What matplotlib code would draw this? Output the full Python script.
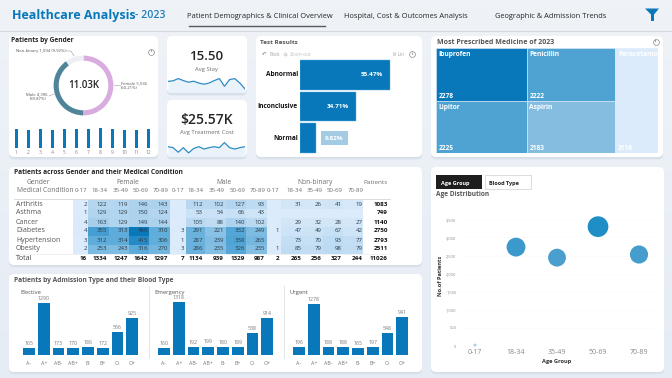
import matplotlib
matplotlib.use("Agg")
import matplotlib.pyplot as plt
import numpy as np
from matplotlib.colors import LinearSegmentedColormap
from matplotlib.patches import FancyBboxPatch, Polygon, Rectangle

plt.rcParams['font.family'] = ['Open Sans', 'DejaVu Sans']

W, H = 672, 378
BLUE = '#0878BA'
DARK = '#252525'
GREY = '#6E6E6E'

gender_names = ['Female', 'Male', 'Non-binary']
gender_counts = [5536, 4396, 1094]
gender_colors = ['#D8ACDF', '#4F8499', '#EDEFF3']
month_labels = [str(m) for m in range(1, 13)]
month_counts = [935, 895, 935, 905, 940, 975, 935, 985, 945, 905, 895, 935]

avg_stay = [15.42, 15.45, 15.56, 15.46, 15.38, 15.43, 15.34, 15.28, 15.34, 15.46, 15.56, 15.18, 15.51, 15.56, 15.34, 15.05]
avg_cost = [25.75, 25.68, 25.35, 25.68, 25.30, 25.62, 25.75, 25.58, 25.68, 25.75, 25.68, 26.05, 25.68, 25.58, 25.68, 25.75]

test_names = ['Abnormal', 'Inconclusive', 'Normal']
test_shares = [55.47, 34.71, 9.82]

medicine_names = ['Ibuprofen', 'Lipitor', 'Penicillin', 'Aspirin', 'Paracetamol']
medicine_counts = [2278, 2225, 2222, 2183, 2118]
medicine_colors = ['#0878BA', '#4FA3D3', '#4FA3D3', '#85BDE1', '#DCEBFB']

conditions = ['Arthritis', 'Asthma', 'Cancer', 'Diabetes', 'Hypertension', 'Obesity']
age_groups = ['0-17', '18-34', '35-49', '50-69', '70-89']
n = np.nan
female = [[2, 122, 119, 146, 143], [1, 129, 129, 150, 124], [4, 163, 129, 149, 144],
          [4, 355, 313, 466, 310], [3, 312, 314, 415, 306], [2, 253, 243, 316, 270]]
male = [[n, 112, 102, 127, 93], [n, 53, 54, 66, 43], [n, 105, 88, 140, 102],
        [3, 291, 221, 332, 249], [1, 287, 239, 338, 265], [3, 286, 235, 326, 235]]
nonbinary = [[n, 31, 26, 41, 19], [n, n, n, n, n], [n, 29, 32, 28, 27],
             [1, 47, 49, 67, 42], [n, 73, 70, 93, 77], [1, 85, 79, 98, 79]]
female_total = [16, 1334, 1247, 1642, 1297]
male_total = [7, 1134, 939, 1329, 987]
nonbinary_total = [2, 265, 256, 327, 244]
patients_total = [1083, 749, 1140, 2750, 2793, 2511, 11026]

blood_types = ['A-', 'A+', 'AB-', 'AB+', 'B-', 'B+', 'O-', 'O+']
elective = [165, 1290, 173, 170, 186, 172, 556, 925]
emergency = [160, 1318, 192, 199, 180, 189, 538, 914]
urgent = [196, 1278, 188, 188, 165, 197, 548, 941]

age_patients = [25, 2733, 2442, 3298, 2528]
y_ticks = [0, 500, 1000, 1500, 2000, 2500, 3000, 3500]

fig = plt.figure(figsize=(W / 100, H / 100), dpi=100)
bg = fig.add_axes([0, 0, 1, 1])
bg.set_xlim(0, W)
bg.set_ylim(H, 0)
bg.axis('off')


def ax_px(x0, y0, x1, y1):
    ax = fig.add_axes([x0 / W, 1 - y1 / H, (x1 - x0) / W, (y1 - y0) / H])
    ax.patch.set_alpha(0)
    return ax


def card(x0, y0, x1, y1):
    for off, col in ((2.5, '#DDE4EC'), (1.2, '#D5DDE6')):
        bg.add_patch(FancyBboxPatch((x0, y0 + off), x1 - x0, y1 - y0, boxstyle='round,pad=0,rounding_size=5',
                                    fc=col, ec='none', zorder=1))
    bg.add_patch(FancyBboxPatch((x0, y0), x1 - x0, y1 - y0, boxstyle='round,pad=0,rounding_size=5',
                                fc='white', ec='none', zorder=2))


def label(x, y, s, size=4.5, color=GREY, ha='left', weight='normal', **kw):
    bg.text(x, y, s, fontsize=size, color=color, ha=ha, va='center', fontweight=weight, zorder=6, **kw)


def info(x, y):
    bg.plot([x], [y], 'o', ms=4.2, mfc='white', mec='#8A8A8A', mew=0.5, zorder=6)
    label(x, y, 'i', size=3.2, color='#777777', ha='center', weight='bold')


# page background + header
bg.imshow(np.linspace(0, 1, 64).reshape(-1, 1), extent=(0, W, H, 0), aspect='auto', zorder=0,
          cmap=LinearSegmentedColormap.from_list('page', ['#EFF3F8', '#E6ECF5']))
bg.set_xlim(0, W)
bg.set_ylim(H, 0)
bg.plot([0, W], [30.5, 30.5], color='#D3D9E1', lw=0.8, zorder=1)
label(12, 15, 'Healthcare Analysis', size=9, color=BLUE, weight='bold')
label(135, 16, '- 2023', size=7.6, color='#1F7DB8', weight='semibold')
label(260, 16, 'Patient Demographics & Clinical Overview', size=5.4, color=DARK, ha='center')
bg.plot([189, 325], [26, 26], color='#555B60', lw=1, zorder=3)
label(405.5, 16, 'Hospital, Cost & Outcomes Analysis', size=5.4, color=DARK, ha='center')
label(551, 16, 'Geographic & Admission Trends', size=5.4, color=DARK, ha='center')
bg.add_patch(Polygon([(645, 8.5), (659, 8.5), (654, 14.5), (654, 21), (651, 21), (651, 14.5)], fc=BLUE, ec='none', zorder=3))

card(9, 36, 158, 157)
card(167, 36, 247, 93)
card(167, 100, 247, 157)
card(256, 36, 422, 157)
card(431, 36, 663, 157)
card(9, 167, 422, 265)
card(9, 274, 422, 372)
card(431, 167, 664, 372)

# patients by gender
label(11, 41, 'Patients by Gender', size=4.8, color=DARK, weight='bold')
info(151, 51.5)
ax = ax_px(53, 55, 114, 116)
ax.pie(gender_counts, colors=gender_colors, startangle=90, counterclock=False, radius=1,
       wedgeprops=dict(width=0.17, ec='none'))
ax.set_xlim(-1.02, 1.02)
ax.set_ylim(-1.02, 1.02)
label(84, 85, f'{sum(gender_counts) / 1000:.2f}K', size=7, color=DARK, ha='center', weight='semibold')
total = sum(gender_counts)
label(16, 51, f'{gender_names[2]} {gender_counts[2]:,} ({gender_counts[2] / total:.2%})', size=3.1, color='#555555')
bg.plot([66, 71, 74], [51, 51, 56], color='#999999', lw=0.4, zorder=5)
label(121, 83, f'{gender_names[0]} {gender_counts[0]:,}', size=3.1, color='#555555')
label(121, 88, f'({gender_counts[0] / total:.2%})', size=3.1, color='#555555')
bg.plot([114, 120], [85, 85], color='#999999', lw=0.4, zorder=5)
label(47, 94, f'{gender_names[1]} {gender_counts[1]:,}', size=3.1, color='#555555', ha='right')
label(47, 99, f'({gender_counts[1] / total:.2%})', size=3.1, color='#555555', ha='right')
bg.plot([49, 54], [96, 94], color='#999999', lw=0.4, zorder=5)

ax = ax_px(10.3, 126, 154.3, 148.5)
ax.bar(month_labels, month_counts, width=0.27, color=BLUE)
ax.set_xlim(-0.5, 11.5)
ax.set_ylim(0, 1100)
ax.set_yticks([])
ax.tick_params(axis='x', length=0, labelsize=3.6, labelcolor='#888888', pad=1)
for s in ax.spines.values():
    s.set_visible(False)

# KPI cards
label(206.5, 57, '15.50', size=9.5, color=DARK, ha='center', weight='semibold')
label(206.5, 69, 'Avg Stay', size=4.2, ha='center')
label(206.5, 120, '$25.57K', size=10, color=DARK, ha='center', weight='semibold')
label(206.5, 132.5, 'Avg Treatment Cost', size=4.2, ha='center')
for vals, box in ((avg_stay, (168, 76, 245, 92.5)), (avg_cost, (168, 140, 245, 156.5))):
    ax = ax_px(*box)
    xs = np.arange(len(vals))
    low = min(vals) - (max(vals) - min(vals)) * 0.35
    ax.plot(xs, vals, color='#2E8BC4', lw=0.9)
    ax.fill_between(xs, vals, low, color='#EAF3FA', lw=0)
    ax.set_xlim(0, len(vals) - 1)
    ax.set_ylim(low, max(vals) + (max(vals) - min(vals)) * 0.25)
    ax.axis('off')

# test results
label(260, 43, 'Test Results', size=4.6, color='#555555', weight='bold')
label(262, 54, '\u21b6', size=4, color='#888888')
label(269, 54, 'Back', size=3.4, color='#A5A5A5')
# magnifier icon, no font has the glyph
bg.plot([284.5], [53.5], 'o', ms=2.2, mfc='none', mec='#BBBBBB', mew=0.4, zorder=6)
bg.plot([285.3, 286.8], [54.3, 55.8], color='#BBBBBB', lw=0.4, zorder=6)
label(290, 54, 'Zoom-out', size=3.4, color='#C0C0C0')
label(393, 54, 'lıl Lin', size=3.4, color='#A5A5A5')
info(412, 54)
ax = ax_px(300, 59, 404, 154)
ypos = np.arange(len(test_names))
ax.barh(ypos, test_shares, height=0.94, color=BLUE, ec='#5FB0E0', lw=0.3)
ax.set_xlim(0, 64)
ax.set_ylim(2.5, -0.5)
ax.axis('off')
for y, name, v in zip(ypos, test_names, test_shares):
    ax.annotate(name, (0, y), xytext=(-1.5, 0), textcoords='offset points', ha='right', va='center',
                fontsize=4.7, color='#111111', fontweight='bold')
    if v > 20:
        ax.annotate(f'{v:.2f}%', (v, y), xytext=(-5, 0), textcoords='offset points', ha='right', va='center',
                    fontsize=4.6, color='white', fontweight='bold')
    else:
        ax.annotate(f'{v:.2f}%', (v, y), xytext=(6.5, 0), textcoords='offset points', ha='left', va='center',
                    fontsize=4.6, color='white', fontweight='bold',
                    bbox=dict(fc='#A3CBE4', ec='none', boxstyle='square,pad=0.7'))

# medicine treemap
label(437, 42.5, 'Most Prescribed Medicine of 2023', size=5, color='#555555', weight='bold')
info(655.5, 41.5)
ax = ax_px(436, 48, 658, 153)
ax.set_xlim(0, sum(medicine_counts))
ax.set_ylim(1, 0)
ax.axis('off')
x_left = 0
for group in ([0, 1], [2, 3], [4]):
    col_total = sum(medicine_counts[i] for i in group)
    y_top = 0
    for i in group:
        h = medicine_counts[i] / col_total
        ax.add_patch(Rectangle((x_left, y_top), col_total, h, fc=medicine_colors[i], ec='#DCEBFB', lw=0.4))
        ax.annotate(medicine_names[i], (x_left, y_top), xytext=(2, -4.5), textcoords='offset points',
                    fontsize=4.8, color='white', fontweight='bold', va='center')
        ax.annotate(str(medicine_counts[i]), (x_left, y_top + h), xytext=(2, 3.5), textcoords='offset points',
                    fontsize=4.8, color='white', fontweight='bold', va='center')
        y_top += h
    x_left += col_total

# matrix
label(14, 172, 'Patients across Gender and their Medical Condition', size=4.8, color=DARK, weight='bold')
col_right = [87, 107, 128, 148, 168, 184, 203, 224, 245, 265, 279, 302, 322, 342, 363]
col_edges = [73, 88, 109, 129, 149, 170, 186, 205, 226, 246, 267, 281, 303, 323, 343, 363]
row_y = [204, 213, 222, 231, 240, 249]
row_edges = [200, 209, 218, 227, 236, 245, 254]
matrix = np.hstack([np.array(female, float), np.array(male, float), np.array(nonbinary, float)])
heat = LinearSegmentedColormap.from_list('heat', ['#DCEBFB', '#A9D0EC', '#5FADDA', '#0878BA'])
bg.pcolormesh(col_edges, row_edges, np.nan_to_num(matrix), cmap=heat, vmin=0, vmax=466, zorder=3)
bg.set_xlim(0, W)
bg.set_ylim(H, 0)
label(38, 182, 'Gender', size=4.9, ha='center')
label(17, 191, 'Medical Condition', size=4.9)
label(128, 182, 'Female', size=4.9, ha='center')
label(224, 182, 'Male', size=4.9, ha='center')
label(315, 182, 'Non-binary', size=4.9, ha='center')
label(388, 182, 'Patients', size=4.6, ha='right')
for j, r in enumerate(col_right):
    label(r + 0.5, 191, age_groups[j % 5], size=4.4, ha='right')
bg.plot([14, 390], [199, 199], color='#C9CDD2', lw=0.5, zorder=4)
for i, y in enumerate(row_y):
    label(16, y, conditions[i], size=5, color='#555555')
    for j, r in enumerate(col_right):
        if not np.isnan(matrix[i, j]):
            label(r, y, f'{matrix[i, j]:.0f}', size=4.4, color='#2A3A46', ha='right')
    label(388, y, str(patients_total[i]), size=4.5, color='#111111', ha='right', weight='bold')
label(16, 258, 'Total', size=5, color='#444444')
for r, v in zip(col_right, female_total + male_total + nonbinary_total):
    label(r, 258, str(v), size=4.5, color='#111111', ha='right', weight='bold')
label(388, 258, str(patients_total[-1]), size=4.5, color='#111111', ha='right', weight='bold')
bg.plot([14, 390], [254.3, 254.3], color='#E4E6E9', lw=0.4, zorder=4)

# admission type bars
label(14, 280, 'Patients by Admission Type and their Blood Type', size=4.8, color='#555555', weight='bold')
panels = [('Elective', elective, 21.6, 20), ('Emergency', emergency, 156.6, 154), ('Urgent', urgent, 291.6, 289)]
for name, vals, left, tx in panels:
    label(tx, 292.5, name, size=4.2, color='#555555')
    ax = ax_px(left, 298, left + 118, 354.5)
    bars = ax.bar(blood_types, vals, width=0.8, color=BLUE)
    ax.bar_label(bars, labels=[str(v) for v in vals], fontsize=3.8, color='#777777', padding=1.5)
    ax.set_xlim(-0.5, 7.5)
    ax.set_ylim(0, 1420)
    ax.set_yticks([])
    ax.tick_params(axis='x', length=0, labelsize=3.8, labelcolor='#777777', pad=5)
    for s in ax.spines.values():
        s.set_visible(False)
bg.plot([148.5, 148.5], [286, 358], color='#D6D8DB', lw=0.5, zorder=4)
bg.plot([283.5, 283.5], [286, 358], color='#D6D8DB', lw=0.5, zorder=4)

# age distribution
bg.add_patch(Rectangle((436, 175), 46, 14, fc='#1E1E1E', ec='none', zorder=4))
bg.add_patch(Rectangle((485, 175), 46, 14, fc='white', ec='#CFCFCF', lw=0.5, zorder=4))
label(441, 184, 'Age Group', size=4, color='white', weight='bold')
label(489, 184, 'Blood Type', size=4, color='#222222', weight='bold')
label(436.5, 195, 'Age Distribution', size=4.7, color='#555555', weight='bold')

ax = ax_px(460, 215, 655, 346)
xs = np.arange(len(age_groups))
vals = np.array(age_patients)
diam_px = np.maximum(20.7 * np.sqrt(vals / vals.max()), 3)
bubble = LinearSegmentedColormap.from_list('bubble', [(0, '#A8D0EA'), (0.74, '#4A9FCE'), (1, '#1F8EC6')])
ax.scatter(xs, vals, s=(diam_px * 0.72) ** 2, c=vals / vals.max(), cmap=bubble, vmin=0, vmax=1, lw=0, zorder=3, clip_on=False)
ax.set_xlim(-0.366, 4.39)
ax.set_ylim(0, 3620)
ax.set_xticks(xs, age_groups)
ax.set_yticks(y_ticks, [f'{v:,}' for v in y_ticks])
ax.grid(axis='y', color='#EDEFF1', lw=0.4, ls=(0, (1, 2)))
ax.tick_params(axis='x', length=0, labelsize=5, labelcolor='#888888', pad=2.5)
ax.tick_params(axis='y', length=0, labelsize=2.9, labelcolor='#8A8A8A', pad=2.5)
ax.set_axisbelow(True)
for s in ax.spines.values():
    s.set_visible(False)
label(557, 361, 'Age Group', size=4.1, color='#333333', ha='center', weight='bold')
label(440, 275.5, 'No.of Patients', size=4.1, color='#333333', ha='center', weight='bold', rotation=90)

fig.savefig('out.png', dpi=100)
